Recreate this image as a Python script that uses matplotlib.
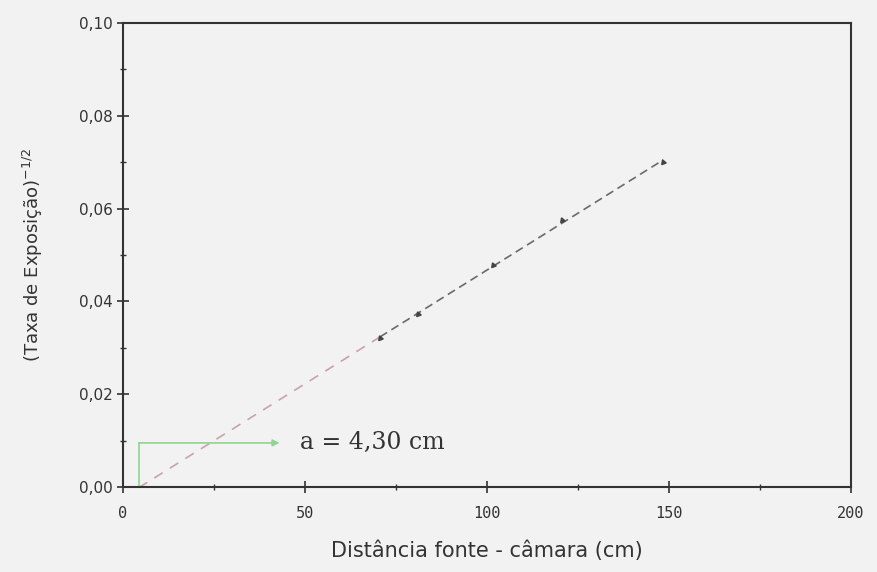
import numpy as np
import matplotlib
matplotlib.use("Agg")
import matplotlib.pyplot as plt

# Data
dist = [70.6, 81.0, 101.6, 120.6, 148.4]
rate = [0.0321, 0.0373, 0.0478, 0.0575, 0.0700]
a_val = 4.30
x_ticks = [0, 50, 100, 150, 200]
x_ticklabels = ["0", "50", "100", "150", "200"]
y_ticks = [0.00, 0.02, 0.04, 0.06, 0.08, 0.10]
y_ticklabels = ["0,00", "0,02", "0,04", "0,06", "0,08", "0,10"]

bg = "#f2f2f2"
fig = plt.figure(figsize=(8.77, 5.72), dpi=100, facecolor=bg)
ax = fig.add_axes([0.1403, 0.1486, 0.8301, 0.8112], facecolor=bg)

# linear fit through the points, extrapolated to the x intercept
slope, intercept = np.polyfit(dist, rate, 1)
xe = np.array([a_val, dist[0]])
ax.plot(xe, slope * xe + intercept, ls=(0, (6, 5)), color="#c9a3a8", lw=1.2)
xf = np.array([dist[0], dist[-1]])
ax.plot(xf, slope * xf + intercept, ls=(0, (5, 3)), color="#6a6a6a", lw=1.2)
ax.plot(dist, rate, ls="none", marker=(3, 0, 20), color="#444444", ms=4)

# green marker for a
ax.plot([a_val, a_val], [0, 0.0095], color="#8fd48f", lw=1.2)
ax.annotate("", xy=(43, 0.0095), xytext=(a_val, 0.0095),
            arrowprops=dict(arrowstyle="-|>", color="#8fd48f", lw=1.2,
                            mutation_scale=10, shrinkA=0, shrinkB=0))
ax.text(48.5, 0.0095, "a = 4,30 cm", fontsize=17, family="DejaVu Serif",
        va="center", ha="left", color="#333333")

ax.set_xlim(0, 200)
ax.set_ylim(0, 0.10)
ax.set_xticks(x_ticks)
ax.set_xticklabels(x_ticklabels, family="DejaVu Sans Mono", fontsize=11)
ax.set_xticks([25, 75, 125, 175], minor=True)
ax.set_yticks(y_ticks)
ax.set_yticklabels(y_ticklabels, family="DejaVu Sans", fontsize=11)
ax.set_yticks([0.01, 0.03, 0.05, 0.07, 0.09], minor=True)
ax.tick_params(which="both", direction="inout", colors="#333333")
ax.tick_params(which="major", length=8, width=1.2)
ax.tick_params(which="minor", length=5, width=1.0)
ax.tick_params(axis="x", which="major", pad=10)
for s in ax.spines.values():
    s.set_color("#333333")
    s.set_linewidth(1.5)

ax.set_xlabel("Distância fonte - câmara (cm)", fontsize=15, color="#333333", labelpad=14)
ax.set_ylabel("(Taxa de Exposição)$^{-1/2}$", fontsize=13, color="#333333", labelpad=24)

fig.savefig("out.png", dpi=100, facecolor=bg)
